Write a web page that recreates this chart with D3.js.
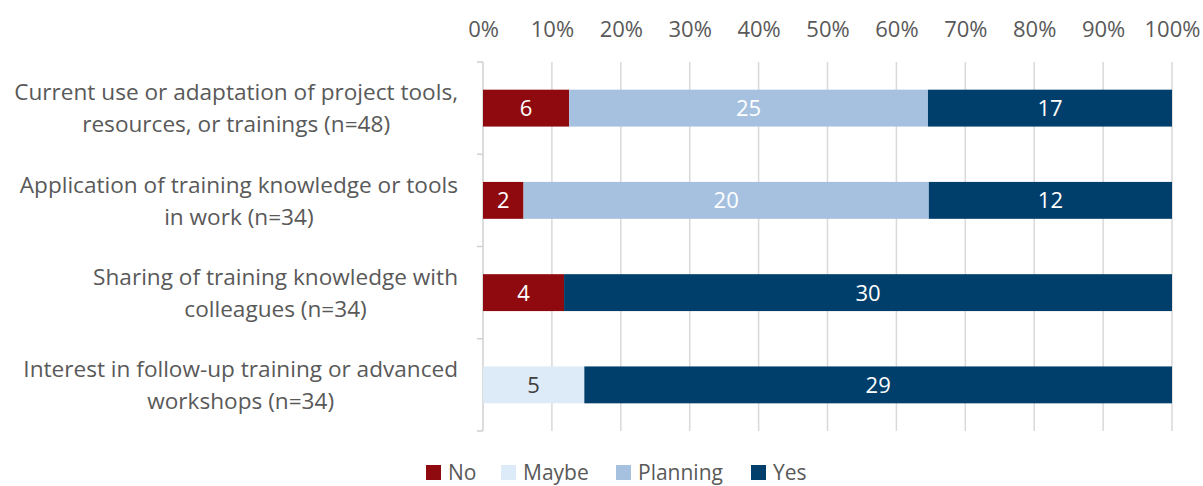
<!DOCTYPE html>
<html>
<head>
<meta charset="utf-8">
<script src="https://cdn.jsdelivr.net/npm/d3@7"></script>
<style>
  body { margin: 0; background: #fff; }
  text { font-family: "Open Sans", sans-serif; }
</style>
</head>
<body>
<svg id="chart"></svg>
<script>
// Size of the picture
const width = 1203;
const height = 486;
const margin = { top: 62, right: 31, bottom: 55, left: 483 };

// Chart data
const categories = [
  ["Current use or adaptation of project tools,", "resources, or trainings (n=48)"],
  ["Application of training knowledge or tools", "in work (n=34)"],
  ["Sharing of training knowledge with", "colleagues (n=34)"],
  ["Interest in follow-up training or advanced", "workshops (n=34)"]
];
const seriesNames = ["No", "Maybe", "Planning", "Yes"];
const noValues = [6, 2, 4, 0];
const maybeValues = [0, 0, 0, 5];
const planningValues = [25, 20, 0, 0];
const yesValues = [17, 12, 30, 29];
const tickValues = [0, 0.1, 0.2, 0.3, 0.4, 0.5, 0.6, 0.7, 0.8, 0.9, 1];

const colors = ["#8f0a0f", "#ddebf8", "#a6c1e0", "#003f6b"];
const labelColors = ["#ffffff", "#404040", "#ffffff", "#ffffff"];

// Build rows with running totals
const allSeries = [noValues, maybeValues, planningValues, yesValues];
const rows = categories.map((c, i) => {
  const total = d3.sum(allSeries, s => s[i]);
  let start = 0;
  const segs = allSeries.map((s, k) => {
    const seg = { key: k, value: s[i], x0: start / total, x1: (start + s[i]) / total };
    start += s[i];
    return seg;
  });
  return { index: i, lines: c, segs: segs };
});

const svg = d3.select("#chart")
  .attr("width", width)
  .attr("height", height);

const x = d3.scaleLinear()
  .domain([0, 1])
  .range([margin.left, width - margin.right]);

const y = d3.scaleBand()
  .domain(rows.map(d => d.index))
  .range([margin.top, height - margin.bottom])
  .paddingInner(0.6)
  .paddingOuter(0.3);

// Gridlines
svg.append("g")
  .selectAll("line")
  .data(tickValues.slice(1))
  .enter()
  .append("line")
  .attr("x1", d => x(d))
  .attr("x2", d => x(d))
  .attr("y1", margin.top)
  .attr("y2", height - margin.bottom)
  .attr("stroke", "#d9d9d9")
  .attr("stroke-width", 1.5);

// Top axis labels
const xAxis = d3.axisTop(x)
  .tickValues(tickValues)
  .tickFormat(d3.format(".0%"))
  .tickSize(0)
  .tickPadding(0);

svg.append("g")
  .attr("transform", "translate(0,37)")
  .call(xAxis)
  .call(g => g.select(".domain").remove())
  .selectAll("text")
  .attr("dy", 0)
  .attr("font-size", 22)
  .attr("font-family", "Open Sans, sans-serif")
  .attr("fill", "#595959");

// Left axis line with ticks between categories
const step = (height - margin.bottom - margin.top) / rows.length;
svg.append("line")
  .attr("x1", x(0)).attr("x2", x(0))
  .attr("y1", margin.top).attr("y2", height - margin.bottom)
  .attr("stroke", "#d0d0d0")
  .attr("stroke-width", 1.5);
svg.append("g")
  .selectAll("line")
  .data(d3.range(rows.length + 1))
  .enter()
  .append("line")
  .attr("x1", x(0) - 6).attr("x2", x(0))
  .attr("y1", d => margin.top + d * step)
  .attr("y2", d => margin.top + d * step)
  .attr("stroke", "#d0d0d0")
  .attr("stroke-width", 1.5);

// Bars
const rowG = svg.selectAll(".row")
  .data(rows)
  .enter()
  .append("g")
  .attr("class", "row");

rowG.selectAll("rect")
  .data(d => d.segs.filter(s => s.value > 0).map(s => Object.assign({ row: d.index }, s)))
  .enter()
  .append("rect")
  .attr("x", d => x(d.x0))
  .attr("width", d => x(d.x1) - x(d.x0))
  .attr("y", d => y(d.row))
  .attr("height", y.bandwidth())
  .attr("fill", d => colors[d.key]);

rowG.selectAll(".val")
  .data(d => d.segs.filter(s => s.value > 0).map(s => Object.assign({ row: d.index }, s)))
  .enter()
  .append("text")
  .attr("class", "val")
  .attr("x", d => (x(d.x0) + x(d.x1)) / 2)
  .attr("y", d => y(d.row) + y.bandwidth() / 2)
  .attr("dy", "0.36em")
  .attr("text-anchor", "middle")
  .attr("font-size", 22)
  .attr("fill", d => labelColors[d.key])
  .text(d => d.value);

// Category labels, each centred on its widest line, right edge near the axis
const labelRight = 458;
rows.forEach(r => {
  const cy = y(r.index) + y.bandwidth() / 2;
  const t = svg.append("text")
    .attr("text-anchor", "middle")
    .attr("font-size", 22.6)
    .attr("fill", "#595959");
  r.lines.forEach((line, j) => {
    t.append("tspan")
      .attr("y", cy + (j - (r.lines.length - 1) / 2) * 32)
      .attr("dy", "0.36em")
      .text(line);
  });
  const w = d3.max(t.selectAll("tspan").nodes(), n => n.getComputedTextLength());
  t.selectAll("tspan").attr("x", labelRight - w / 2);
});

// Legend
const legendX = [426, 501, 616, 751];
const legend = svg.append("g")
  .selectAll("g")
  .data(seriesNames)
  .enter()
  .append("g")
  .attr("transform", (d, i) => `translate(${legendX[i]},465)`);

legend.append("rect")
  .attr("width", 15)
  .attr("height", 15)
  .attr("fill", (d, i) => colors[i]);

legend.append("text")
  .attr("x", 22)
  .attr("y", 15)
  .attr("font-size", 21)
  .attr("fill", "#595959")
  .text(d => d);
</script>
</body>
</html>
